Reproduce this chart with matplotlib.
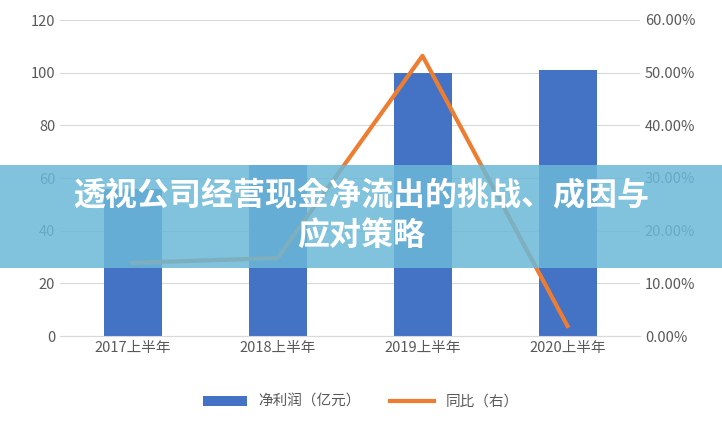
import matplotlib.pyplot as plt
from matplotlib import font_manager
from matplotlib.patches import Rectangle
from matplotlib.ticker import PercentFormatter

cjk = [f.name for f in font_manager.fontManager.ttflist if "CJK" in f.name]
plt.rcParams["font.family"] = "sans-serif"
plt.rcParams["font.sans-serif"] = (["Noto Sans CJK SC"] + sorted(set(cjk)) + ["DejaVu Sans"])

categories = ["2017上半年", "2018上半年", "2019上半年", "2020上半年"]
profit = [56, 65, 100, 101]
yoy = [0.139, 0.148, 0.532, 0.019]

fig = plt.figure(figsize=(7.22, 4.34), dpi=100)
ax = fig.add_axes([60 / 722, 1 - 336 / 434, (640 - 60) / 722, 316 / 434])
x = range(len(categories))
bars = ax.bar(x, profit, width=0.4, color="#4472C4")
ax.set_ylim(0, 120)
ax.set_yticks(range(0, 121, 20))
ax.set_xlim(-0.5, 3.5)
ax.set_xticks(list(x))
ax.set_xticklabels(categories)
ax.grid(axis="y", color="#d9d9d9", linewidth=0.8)
ax.set_axisbelow(True)
for s in ["top", "left", "right"]:
    ax.spines[s].set_visible(False)
ax.spines["bottom"].set_color("#d9d9d9")
ax.tick_params(length=0, colors="#595959", labelsize=10.5)

ax2 = ax.twinx()
line, = ax2.plot(x, yoy, color="#ED7D31", linewidth=3)
ax2.set_ylim(0, 0.6)
ax2.yaxis.set_major_formatter(PercentFormatter(1.0, decimals=2))
for s in ax2.spines.values():
    s.set_visible(False)
ax2.tick_params(length=0, colors="#595959", labelsize=10.5)

fig.legend([bars, line], ["净利润（亿元）", "同比（右）"], loc="center",
           bbox_to_anchor=(0.5, 1 - 402 / 434), ncol=2, frameon=False,
           fontsize=10.5, labelcolor="#595959", handlelength=3)

fig.patches.append(Rectangle((0, 1 - 268 / 434), 1, 103 / 434, transform=fig.transFigure,
                             facecolor="#6BB8D8", alpha=0.85, zorder=10))
fig.text(0.5, 1 - 216 / 434, "透视公司经营现金净流出的挑战、成因与\n应对策略", ha="center",
         va="center", color="white", fontsize=23, fontweight="bold", zorder=11,
         linespacing=1.3)

fig.savefig("out.png")
